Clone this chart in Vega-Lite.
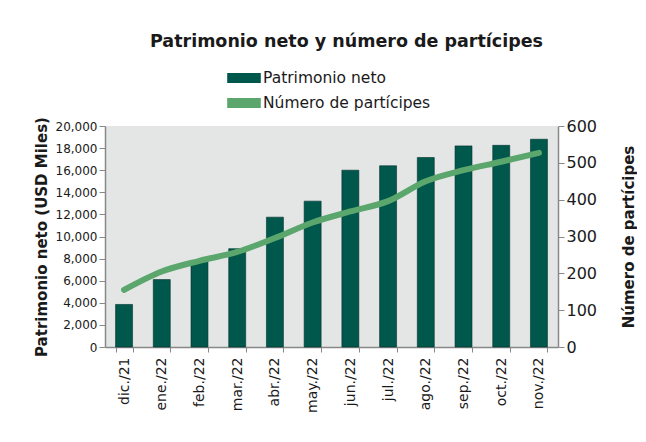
{
  "$schema": "https://vega.github.io/schema/vega-lite/v6.json",
  "width": 453,
  "height": 221,
  "padding": {"left": 34, "top": 32, "right": 0, "bottom": 5},
  "background": "white",
  "title": {
    "text": "Patrimonio neto y número de partícipes",
    "font": "DejaVu Sans",
    "fontSize": 17.5,
    "fontWeight": "bold",
    "color": "#1a1a1a",
    "anchor": "middle",
    "offset": 16,
    "dx": 15
  },
  "data": {
    "values": [
      {"mes": "dic./21", "patrimonio": 3850, "participes": 155},
      {"mes": "ene./22", "patrimonio": 6100, "participes": 205},
      {"mes": "feb./22", "patrimonio": 7800, "participes": 234},
      {"mes": "mar./22", "patrimonio": 8900, "participes": 258},
      {"mes": "abr./22", "patrimonio": 11750, "participes": 296},
      {"mes": "may./22", "patrimonio": 13200, "participes": 338},
      {"mes": "jun./22", "patrimonio": 16000, "participes": 368},
      {"mes": "jul./22", "patrimonio": 16400, "participes": 396},
      {"mes": "ago./22", "patrimonio": 17150, "participes": 450},
      {"mes": "sep./22", "patrimonio": 18200, "participes": 480},
      {"mes": "oct./22", "patrimonio": 18250, "participes": 503},
      {"mes": "nov./22", "patrimonio": 18800, "participes": 527}
    ]
  },
  "encoding": {
    "x": {
      "field": "mes",
      "type": "ordinal",
      "sort": null,
      "title": null,
      "scale": {"paddingInner": 0.55, "paddingOuter": 0.28},
      "axis": {
        "labelAngle": -90,
        "labelFont": "DejaVu Sans",
        "labelFontSize": 14,
        "labelColor": "#1a1a1a",
        "labelPadding": 5,
        "tickBand": "extent",
        "tickSize": 5,
        "domainColor": "#888",
        "tickColor": "#888",
        "domainWidth": 1.5
      }
    }
  },
  "layer": [
    {
      "mark": {"type": "bar", "stroke": "#00332b", "strokeWidth": 0.6},
      "encoding": {
        "y": {
          "field": "patrimonio",
          "type": "quantitative",
          "scale": {"domain": [0, 20000]},
          "title": "Patrimonio neto (USD Miles)",
          "axis": {
            "values": [0, 2000, 4000, 6000, 8000, 10000, 12000, 14000, 16000, 18000, 20000],
            "format": ",.0f",
            "grid": false,
            "labelFont": "DejaVu Sans",
            "labelFontSize": 12,
            "labelColor": "#1a1a1a",
            "titleFont": "DejaVu Sans",
            "titleFontSize": 15,
            "titleFontWeight": "bold",
            "titleColor": "#1a1a1a",
            "titlePadding": 6,
            "tickSize": 6,
            "domainColor": "#888",
            "tickColor": "#888",
            "domainWidth": 1.5
          }
        },
        "color": {
          "datum": "Patrimonio neto",
          "type": "nominal",
          "scale": {
            "domain": ["Patrimonio neto", "Número de partícipes"],
            "range": ["#00574b", "#5aa66c"]
          },
          "legend": {
            "orient": "top",
            "direction": "vertical",
            "title": null,
            "symbolType": "M-1.4,-0.42H1.4V0.42H-1.4Z",
            "symbolSize": 576,
            "symbolStrokeWidth": 0,
            "labelFont": "DejaVu Sans",
            "labelFontSize": 15.5,
            "labelColor": "#1a1a1a",
            "labelOffset": 7,
            "labelLimit": 400,
            "rowPadding": 4,
            "offset": 14
          }
        }
      }
    },
    {
      "mark": {"type": "line", "strokeWidth": 6, "interpolate": "monotone", "strokeCap": "round"},
      "encoding": {
        "y": {
          "field": "participes",
          "type": "quantitative",
          "scale": {"domain": [0, 600]},
          "title": "Número de partícipes",
          "axis": {
            "orient": "right",
            "values": [0, 100, 200, 300, 400, 500, 600],
            "grid": false,
            "labelFont": "DejaVu Sans",
            "labelFontSize": 16,
            "labelColor": "#1a1a1a",
            "titleFont": "DejaVu Sans",
            "titleFontSize": 15,
            "titleFontWeight": "bold",
            "titleColor": "#1a1a1a",
            "titleAngle": 270,
            "titlePadding": 40,
            "tickSize": 6,
            "domainColor": "#888",
            "tickColor": "#888",
            "domainWidth": 1.5
          }
        },
        "color": {"datum": "Número de partícipes", "type": "nominal"}
      }
    }
  ],
  "resolve": {"scale": {"y": "independent"}},
  "config": {
    "view": {"fill": "#e4e6e6", "stroke": null},
    "legend": {"layout": {"top": {"anchor": "middle"}}}
  }
}
